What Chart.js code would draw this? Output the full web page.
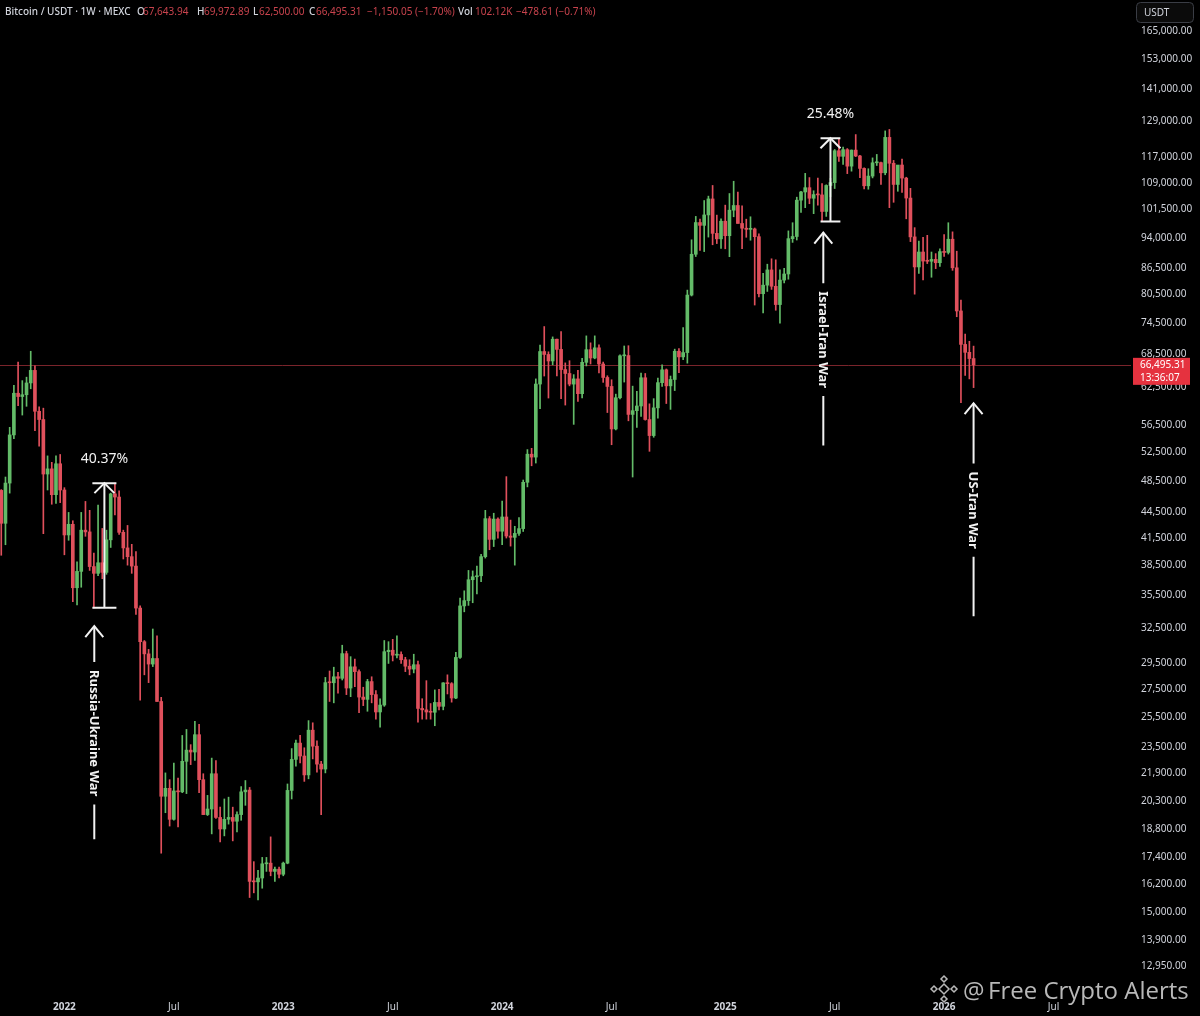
<!DOCTYPE html>
<html lang="en">
<head>
<meta charset="UTF-8">
<title>Bitcoin / USDT · 1W · MEXC</title>
<script src="https://cdn.jsdelivr.net/npm/chart.js@4.4.1/dist/chart.umd.min.js"></script>
<style>
  html, body { margin: 0; padding: 0; background: #000; overflow: hidden; }
  canvas { display: block; }
</style>
</head>
<body>
<canvas id="graficoVelas" width="1200" height="1016"></canvas>
<script>
// semanas contadas desde la vela del 3 ene 2022; la primera vela es la del 20 sep 2021
const primeraSemana = -15;

const aperturas = [
  // 2021
  47250, 43200, 48200, 54950, 61550, 61000, 61300, 63300, 65500, 58600, 57300, 49400, 50100, 46700, 50800,
  // 2022
  47300, 41850, 43080, 36250, 37900, 42400, 42200, 38400, 37700, 38800, 37800, 41300, 46800, 46400, 42150, 40400,
  39450, 38450, 34300, 31300, 30280, 29450, 29900, 26600, 20550, 21000, 19300, 20850, 20800, 22600, 23300, 23180,
  24300, 21500, 19550, 19850, 21850, 19400, 18800, 19300, 19400, 19200, 19550, 20800, 20900, 16300, 16280, 16450,
  17100, 17130, 16750, 16850,
  // 2023
  16620, 17130, 20880, 22720, 23750, 22930, 21780, 24600, 23550, 22430, 22130, 28000, 27990, 28450, 28330, 30300,
  27590, 29230, 28850, 26920, 26750, 28080, 27100, 25850, 26340, 30460, 30580, 30170, 30230, 29800, 29280, 29050,
  29400, 26100, 26000, 25850, 25830, 26530, 26250, 27980, 27920, 26850, 29990, 34500, 35000, 37050, 37350, 37450,
  39450, 43750, 41350, 43700,
  // 2024
  42280, 43950, 41730, 41580, 42030, 42580, 48300, 52140, 51730, 63110, 68950, 68400, 67200, 71300, 69350, 65650,
  64950, 63100, 64000, 61480, 66950, 69300, 67750, 69650, 66650, 64250, 62700, 55850, 60800, 68150, 68200, 58100,
  58700, 59450, 64200, 57300, 54850, 59150, 63350, 65600, 62800, 63900, 69000, 67950, 68750, 80400, 89850, 97950,
  97200, 100000, 104450, 95100, 93700,
  // 2025
  98300, 94500, 101300, 102600, 97700, 96450, 96150, 96250, 94250, 80700, 82600, 86100, 82350, 78350, 83750, 85150,
  93750, 94300, 104100, 106450, 107700, 104650, 105700, 105600, 100950, 108350, 109200, 119100, 117300, 119450, 114200, 119300,
  117400, 113500, 108250, 111150, 115250, 115300, 112150, 123500, 115100, 108650, 114550, 110550, 104700, 94200, 86800, 90400,
  88200, 88150, 88600, 87800,
  // 2026
  90500, 90300, 93600, 86600, 77000, 70300, 68800, 67643.94
];

const maximos = [
  47350, 49000, 56100, 62900, 67000, 63700, 64300, 69000, 66300, 59300, 59100, 51900, 51000, 51900, 52100,
  47600, 44500, 43500, 38900, 44500, 45850, 44750, 39850, 45400, 42600, 42400, 46900, 48189, 47200, 42400, 42950,
  40800, 40000, 34500, 31400, 30650, 32400, 31800, 26900, 21900, 21500, 22500, 21600, 24250, 24650, 23650, 25200,
  25000, 21850, 20600, 22800, 22650, 19950, 20400, 20500, 19950, 19700, 21100, 21450, 21050, 17200, 16800, 17400,
  17400, 18400, 16950, 16950,
  17180, 21250, 23400, 23950, 24250, 23450, 25250, 25100, 23900, 22600, 28400, 28900, 29200, 28800, 31000, 30500,
  30050, 29850, 29000, 27650, 28250, 28450, 27400, 26800, 31400, 31300, 31500, 31800, 30450, 30000, 29800, 30250,
  29700, 26800, 28150, 26450, 27450, 27500, 28000, 28600, 28000, 30400, 35250, 35950, 38000, 37950, 38450, 39700,
  44750, 44000, 44400, 43850,
  45900, 49050, 43580, 42850, 43880, 48600, 52800, 52980, 64000, 70150, 73800, 68900, 71750, 71350, 72800, 66850,
  67250, 64750, 65500, 67700, 71950, 70600, 71950, 70200, 67000, 64550, 63850, 61400, 68350, 70000, 70050, 62750,
  61850, 65000, 64950, 59800, 60650, 64150, 66500, 65750, 64500, 69400, 69500, 73600, 81500, 93450, 99600, 98850,
  104000, 105250, 108350, 99950, 98950,
  102700, 106000, 109600, 106450, 102500, 98850, 99500, 96500, 95000, 85300, 87450, 88750, 88500, 86100, 86500, 95750,
  97900, 104950, 106660, 111980, 110700, 106800, 110550, 108900, 108550, 110500, 119500, 123220, 120250, 119800, 119350, 124450,
  117650, 113650, 113400, 116800, 117900, 115500, 125700, 126200, 116000, 114000, 116400, 110800, 107500, 96600, 93100, 94100,
  94600, 90400, 90000, 91200,
  94800, 97900, 95500, 90600, 79300, 72300, 70900, 69972.89
];

const minimos = [
  39600, 40750, 46900, 54400, 59500, 58000, 59400, 62300, 55600, 53300, 42000, 47300, 45500, 45600, 45700,
  39650, 41250, 34900, 34600, 36300, 41700, 38000, 34322, 37450, 37150, 37600, 40450, 44200, 41900, 39200, 38550,
  37700, 33700, 26700, 28600, 28000, 29250, 26600, 17600, 19650, 18950, 19250, 18900, 20750, 20700, 22400, 22650,
  20750, 19550, 19500, 18550, 19350, 18150, 18450, 19050, 18200, 18650, 19250, 20050, 15600, 15800, 15500, 16000,
  16750, 16550, 16300, 16450,
  16550, 17100, 20400, 22300, 22500, 21400, 21550, 22750, 21950, 19550, 21900, 26600, 26500, 27200, 28200, 27100,
  26950, 27700, 25800, 26300, 25900, 26500, 25350, 24800, 26250, 29500, 29700, 29950, 29500, 28850, 28600, 28750,
  25150, 25350, 25350, 25350, 24900, 26000, 26000, 27150, 26550, 26800, 29900, 33950, 34550, 34800, 35650, 36850,
  39300, 40200, 40550, 41500,
  40750, 41500, 40600, 38550, 41800, 42250, 47700, 50520, 50900, 59000, 64500, 60750, 66500, 64500, 60650, 59600,
  62800, 56550, 60200, 60750, 66300, 66650, 67600, 65050, 63400, 58400, 53500, 55700, 60600, 63450, 57100, 49000,
  56100, 57800, 57200, 52550, 54600, 57500, 62700, 59850, 58900, 62000, 65100, 67450, 66800, 80200, 89300, 90800,
  90500, 94150, 92200, 92500, 91300,
  91200, 89250, 99500, 97750, 91200, 94100, 93350, 78250, 80000, 76600, 81200, 81650, 77150, 74500, 83100, 83950,
  92800, 93400, 100700, 102000, 103100, 100350, 102700, 98200, 99600, 105100, 107450, 115700, 114700, 111900, 112650, 117200,
  110700, 107300, 107250, 110600, 114400, 108650, 111550, 102000, 103500, 106650, 106300, 98950, 93000, 80600, 85300, 83800,
  87600, 84400, 86400, 86900,
  89300, 89900, 86000, 75800, 60000, 64600, 64000, 62500
];

const cierres = [
  43200, 48200, 54950, 61550, 61000, 61300, 63300, 65500, 58600, 57300, 49400, 50100, 46700, 50800, 47300,
  41850, 43080, 36250, 37900, 42400, 42200, 38400, 37700, 38800, 37800, 41300, 46800, 46400, 42150, 40400, 39450,
  38450, 34300, 31300, 30280, 29450, 29900, 26600, 20550, 21000, 19300, 20850, 20800, 22600, 23300, 23180, 24300,
  21500, 19550, 19850, 21850, 19400, 18800, 19300, 19400, 19200, 19550, 20800, 20900, 16300, 16280, 16450, 17100,
  17130, 16750, 16850, 16620,
  17130, 20880, 22720, 23750, 22930, 21780, 24600, 23550, 22430, 22130, 28000, 27990, 28450, 28330, 30300, 27590,
  29230, 28850, 26920, 26750, 28080, 27100, 25850, 26340, 30460, 30580, 30170, 30230, 29800, 29280, 29050, 29400,
  26100, 26000, 25850, 25830, 26530, 26250, 27980, 27920, 26850, 29990, 34500, 35000, 37050, 37350, 37450, 39450,
  43750, 41350, 43700, 42280,
  43950, 41730, 41580, 42030, 42580, 48300, 52140, 51730, 63110, 68950, 68400, 67200, 71300, 69350, 65650, 64950,
  63100, 64000, 61480, 66950, 69300, 67750, 69650, 66650, 64250, 62700, 55850, 60800, 68150, 68200, 58100, 58700,
  59450, 64200, 57300, 54850, 59150, 63350, 65600, 62800, 63900, 69000, 67950, 68750, 80400, 89850, 97950, 97200,
  100000, 104450, 95100, 93700, 98300,
  94500, 101300, 102600, 97700, 96450, 96150, 96250, 94250, 80700, 82600, 86100, 82350, 78350, 83750, 85150, 93750,
  94300, 104100, 106450, 107700, 104650, 105700, 105600, 100950, 108350, 109200, 119100, 117300, 119450, 114200, 119300, 117400,
  113500, 108250, 111150, 115250, 115300, 112150, 123500, 115100, 108650, 114550, 110550, 104700, 94200, 86800, 90400, 88200,
  88150, 88600, 87800, 90500,
  90300, 93600, 86600, 77000, 70300, 68800, 67645.36, 66495.31
];

const ticksPrecio = [165000, 153000, 141000, 129000, 117000, 109000, 101500, 94000, 86500, 80500, 74500, 68500,
  62500, 56500, 52500, 48500, 44500, 41500, 38500, 35500, 32500, 29500, 27500, 25500, 23500, 21900, 20300,
  18800, 17400, 16200, 15000, 13900, 12950];
const ticksSemana = [0, 26, 52, 78, 104, 130, 157, 183, 209, 235];
const etiquetasSemana = ['2022', 'Jul', '2023', 'Jul', '2024', 'Jul', '2025', 'Jul', '2026', 'Jul'];

// mediciones dibujadas sobre el grafico
const rangoSemanas = [[7, 12], [180, 184]];
const rangoMin = [34322, 98200];
const rangoMax = [48189, 123220];
const rangoTexto = ['40.37%', '25.48%'];

// flechas de eventos (punta en semana / precio)
const eventos = ['Russia-Ukraine War', 'Israel-Iran War', 'US-Iran War'];
const eventoSemana = [7.1, 180.3, 216];
const eventoPrecio = [32650, 95300, 59900];

document.addEventListener('DOMContentLoaded', () => {
  const VERDE = '#63bb68';
  const ROJO = '#e0505c';
  const ROJO_TXT = '#c8434d';
  const TEXTO = '#d1d4dc';
  const BLANCO = '#f2f2f2';
  const FUENTE = '"Noto Sans", "Open Sans", sans-serif';

  Chart.defaults.font.family = FUENTE;

  const fmt = (v) => v.toLocaleString('en-US', { minimumFractionDigits: 2, maximumFractionDigits: 2 });
  const semana = (k) => primeraSemana + k;
  const colores = cierres.map((c, k) => (c >= aperturas[k] ? VERDE : ROJO));

  const ultimo = cierres.length - 1;

  const flecha = (ctx, x, yPunta, ancho, alto) => {
    ctx.beginPath();
    ctx.moveTo(x - ancho, yPunta + alto);
    ctx.lineTo(x, yPunta);
    ctx.lineTo(x + ancho, yPunta + alto);
    ctx.stroke();
  };

  const capas = {
    id: 'capas',
    beforeDatasetsDraw(chart) {
      const { ctx, chartArea, scales } = chart;
      const yc = Math.round(scales.y.getPixelForValue(cierres[ultimo])) + 0.5;
      ctx.save();
      ctx.strokeStyle = '#7a242b';
      ctx.lineWidth = 1;
      ctx.beginPath();
      ctx.moveTo(chartArea.left, yc);
      ctx.lineTo(chartArea.right, yc);
      ctx.stroke();
      ctx.restore();
    },
    afterDraw(chart) {
      const { ctx, chartArea, scales } = chart;
      const sx = scales.x;
      const sy = scales.y;
      ctx.save();
      ctx.strokeStyle = BLANCO;
      ctx.fillStyle = BLANCO;
      ctx.lineWidth = 2;

      // mediciones de subida
      rangoSemanas.forEach(([w0, w1], k) => {
        const xl = sx.getPixelForValue(w0) - 1.5;
        const xr = sx.getPixelForValue(w1) + 1.5;
        const xm = (xl + xr) / 2;
        const yTop = sy.getPixelForValue(rangoMax[k]);
        const yBot = sy.getPixelForValue(rangoMin[k]);
        ctx.beginPath();
        ctx.moveTo(xm, yTop);
        ctx.lineTo(xm, yBot);
        ctx.moveTo(xl, yTop);
        ctx.lineTo(xr, yTop);
        ctx.moveTo(xl, yBot);
        ctx.lineTo(xr, yBot);
        ctx.stroke();
        flecha(ctx, xm, yTop, 10, 10);
        ctx.font = '14px ' + FUENTE;
        ctx.textAlign = 'center';
        ctx.textBaseline = 'middle';
        ctx.fillText(rangoTexto[k], xm, yTop - 24);
      });

      // flechas con texto vertical
      ctx.font = 'bold 13px ' + FUENTE;
      eventos.forEach((texto, k) => {
        const xe = sx.getPixelForValue(eventoSemana[k]);
        const yt = sy.getPixelForValue(eventoPrecio[k]);
        const w = ctx.measureText(texto).width;
        const centro = yt + 107;
        ctx.beginPath();
        ctx.moveTo(xe, yt);
        ctx.lineTo(xe, centro - w / 2 - 8);
        ctx.moveTo(xe, centro + w / 2 + 8);
        ctx.lineTo(xe, yt + 213);
        ctx.stroke();
        flecha(ctx, xe, yt, 9, 11);
        ctx.save();
        ctx.translate(xe, centro);
        ctx.rotate(Math.PI / 2);
        ctx.textAlign = 'center';
        ctx.textBaseline = 'middle';
        ctx.fillText(texto, 0, 1);
        ctx.restore();
      });

      // encabezado
      const cambio = cierres[ultimo] - cierres[ultimo - 1];
      const pct = cambio / cierres[ultimo - 1] * 100;
      const signo = (v, s) => (v < 0 ? '\u2212' : '+') + s;
      const partes = [
        ['Bitcoin / USDT \u00b7 1W \u00b7 MEXC', TEXTO, 5, '500'],
        ['O', TEXTO, 137, '500'], [fmt(aperturas[ultimo]), ROJO_TXT, 143, '400'],
        ['H', TEXTO, 197, '500'], [fmt(maximos[ultimo]), ROJO_TXT, 204, '400'],
        ['L', TEXTO, 253, '500'], [fmt(minimos[ultimo]), ROJO_TXT, 259, '400'],
        ['C', TEXTO, 309, '500'], [fmt(cierres[ultimo]), ROJO_TXT, 316, '400'],
        [signo(cambio, fmt(Math.abs(cambio))) + ' (' + signo(pct, Math.abs(pct).toFixed(2)) + '%)', ROJO_TXT, 367, '400'],
        ['Vol', TEXTO, 458, '500'], ['102.12K', ROJO_TXT, 475, '400'],
        ['\u2212478.61 (\u22120.71%)', ROJO_TXT, 516, '400']
      ];
      ctx.textAlign = 'left';
      ctx.textBaseline = 'middle';
      partes.forEach(([t, c, x, peso]) => {
        ctx.font = peso + ' 10px ' + FUENTE;
        ctx.fillStyle = c;
        ctx.fillText(t, x, 12);
      });

      // caja de moneda
      ctx.fillStyle = '#0b0b0b';
      ctx.strokeStyle = '#3a3d45';
      ctx.lineWidth = 1;
      ctx.beginPath();
      ctx.roundRect(1136.5, 2.5, 57, 20, 4);
      ctx.fill();
      ctx.stroke();
      ctx.fillStyle = TEXTO;
      ctx.font = '10px ' + FUENTE;
      ctx.fillText('USDT', 1144, 13);

      // etiqueta de precio actual
      const yp = sy.getPixelForValue(cierres[ultimo]);
      ctx.fillStyle = '#e5323f';
      ctx.fillRect(chartArea.right + 2, yp - 7, 57, 27);
      ctx.fillStyle = '#ffffff';
      ctx.font = '10px ' + FUENTE;
      ctx.fillText(fmt(cierres[ultimo]), chartArea.right + 9, yp);
      ctx.fillText('13:36:07', chartArea.right + 9, yp + 13);

      // marca de agua
      ctx.globalAlpha = 0.85;
      ctx.fillStyle = '#d8d8d8';
      ctx.font = '24px "Open Sans", sans-serif';
      ctx.textBaseline = 'alphabetic';
      ctx.fillText('@', 963, 999);
      ctx.fillText('Free Crypto Alerts', 988, 999);
      ctx.strokeStyle = '#d8d8d8';
      ctx.lineWidth = 1.5;
      [[944, 989, 5], [944, 979, 3], [944, 999, 3], [934, 989, 3], [954, 989, 3]].forEach(([cx, cy, r]) => {
        ctx.beginPath();
        ctx.moveTo(cx, cy - r);
        ctx.lineTo(cx + r, cy);
        ctx.lineTo(cx, cy + r);
        ctx.lineTo(cx - r, cy);
        ctx.closePath();
        ctx.stroke();
      });
      ctx.restore();
    }
  };

  new Chart(document.getElementById('graficoVelas'), {
    type: 'bar',
    data: {
      datasets: [
        {
          label: 'Cuerpo',
          data: aperturas.map((o, k) => ({ x: semana(k), y: [o, cierres[k]] })),
          backgroundColor: colores,
          borderWidth: 0,
          barThickness: 3,
          minBarLength: 1,
          grouped: false,
          order: 0
        },
        {
          label: 'Mecha',
          data: minimos.map((l, k) => ({ x: semana(k), y: [l, maximos[k]] })),
          backgroundColor: colores,
          borderWidth: 0,
          barThickness: 1,
          minBarLength: 1,
          grouped: false,
          order: 1
        }
      ]
    },
    options: {
      responsive: false,
      animation: false,
      events: [],
      layout: { padding: 0 },
      plugins: {
        legend: { display: false },
        tooltip: { enabled: false }
      },
      scales: {
        x: {
          type: 'linear',
          min: -15.3,
          max: 253.4,
          offset: false,
          grid: { display: false, drawTicks: false, offset: false },
          border: { display: false },
          afterBuildTicks: (scale) => {
            scale.ticks = ticksSemana.map(v => ({ value: v }));
          },
          afterFit: (scale) => {
            scale.height = 23;
            scale.paddingLeft = 0;
            scale.paddingRight = 0;
          },
          ticks: {
            autoSkip: false,
            maxRotation: 0,
            padding: 8,
            color: TEXTO,
            font: (c) => ({ size: 10, weight: etiquetasSemana[c.index] === 'Jul' ? 'normal' : 'bold' }),
            callback: (v, i) => etiquetasSemana[i]
          }
        },
        y: {
          type: 'logarithmic',
          position: 'right',
          min: 12030,
          max: 179500,
          beginAtZero: false,
          grid: { display: false, drawTicks: false },
          border: { display: false },
          afterBuildTicks: (scale) => {
            scale.ticks = ticksPrecio.map(v => ({ value: v }));
          },
          afterFit: (scale) => {
            scale.width = 69;
            scale.paddingTop = 0;
            scale.paddingBottom = 0;
          },
          ticks: {
            autoSkip: false,
            padding: 10,
            color: TEXTO,
            font: { size: 10 },
            callback: (v) => fmt(v)
          }
        }
      }
    },
    plugins: [capas]
  });
});
</script>
</body>
</html>
